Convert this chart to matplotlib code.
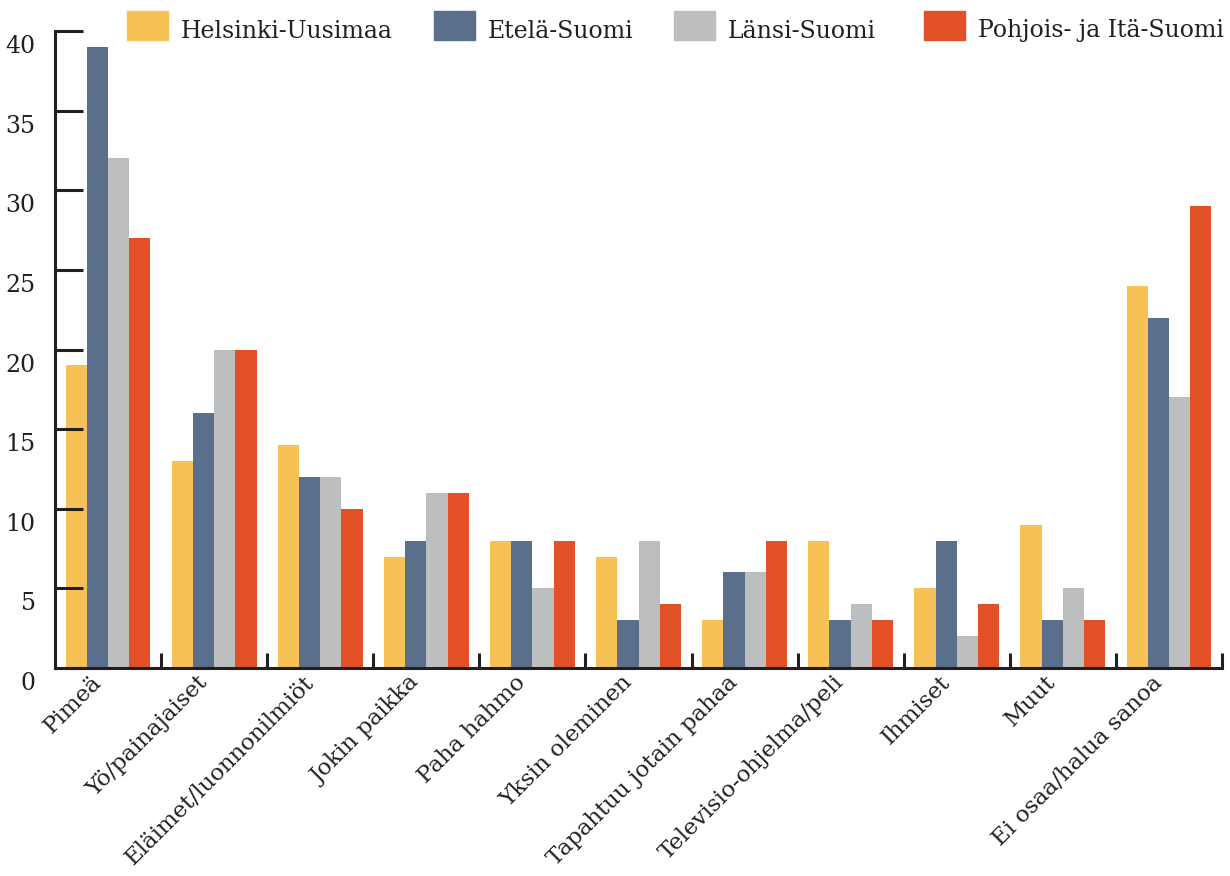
import numpy as np
import matplotlib.pyplot as plt
from matplotlib.transforms import ScaledTranslation
from matplotlib.patches import Rectangle

plt.rcParams['font.family'] = ['DejaVu Serif']

categories = ["Pimeä", "Yö/painajaiset", "Eläimet/luonnonilmiöt", "Jokin paikka",
              "Paha hahmo", "Yksin oleminen", "Tapahtuu jotain pahaa",
              "Televisio-ohjelma/peli", "Ihmiset", "Muut", "Ei osaa/halua sanoa"]
series = ["Helsinki-Uusimaa", "Etelä-Suomi", "Länsi-Suomi", "Pohjois- ja Itä-Suomi"]
helsinki = [19, 13, 14, 7, 8, 7, 3, 8, 5, 9, 24]
etela = [39, 16, 12, 8, 8, 3, 6, 3, 8, 3, 22]
lansi = [32, 20, 12, 11, 5, 8, 6, 4, 2, 5, 17]
pohjois = [27, 20, 10, 11, 8, 4, 8, 3, 4, 3, 29]
colors = ["#F6C155", "#5A6F8C", "#BDBEC0", "#E25026"]

ink = "#231F20"
fig = plt.figure(figsize=(12.3, 8.76), dpi=100)
ax = fig.add_axes([55/1230, 1-668/876, (1222-55)/1230, (668-31)/876])

x = np.arange(len(categories))
w = 0.2
for i, vals in enumerate([helsinki, etela, lansi, pohjois]):
    ax.bar(x + (i - 1.5) * w, vals, w, color=colors[i], label=series[i])

ax.set_xlim(-0.5, len(categories) - 0.5)
ax.set_ylim(0, 40)
for s in ["top", "right"]:
    ax.spines[s].set_visible(False)
for s in ["left", "bottom"]:
    ax.spines[s].set_linewidth(2.2)
    ax.spines[s].set_color(ink)

ax.set_yticks(range(0, 41, 5))
ax.tick_params(axis='y', direction='in', length=20, width=2.2, color=ink,
               labelsize=17, labelcolor=ink, pad=14)
for lab in ax.get_yticklabels():
    lab.set_transform(lab.get_transform() + ScaledTranslation(0, -0.13, fig.dpi_scale_trans))

ax.set_xticks(x)
ax.set_xticklabels(categories, rotation=45, ha='right', va='center',
                   rotation_mode='anchor', fontsize=16.5, color=ink)
ax.tick_params(axis='x', which='major', length=0, pad=13)
for lab in ax.get_xticklabels():
    lab.set_transform(lab.get_transform() + ScaledTranslation(-0.10, 0.07, fig.dpi_scale_trans))
ax.set_xticks(np.arange(0.5, len(categories), 1), minor=True)
ax.tick_params(axis='x', which='minor', direction='in', length=11, width=2.2, color=ink)

# legend boxes along the top
leg_x = [127, 434, 674, 924]
for i, name in enumerate(series):
    fig.patches.append(Rectangle((leg_x[i]/1230, 1-40/876), 41/1230, 29/876,
                                 transform=fig.transFigure, color=colors[i]))
    fig.text((leg_x[i] + 54)/1230, 1-31/876, name, fontsize=17, color=ink, va='center')

fig.savefig("out.png", dpi=100)
